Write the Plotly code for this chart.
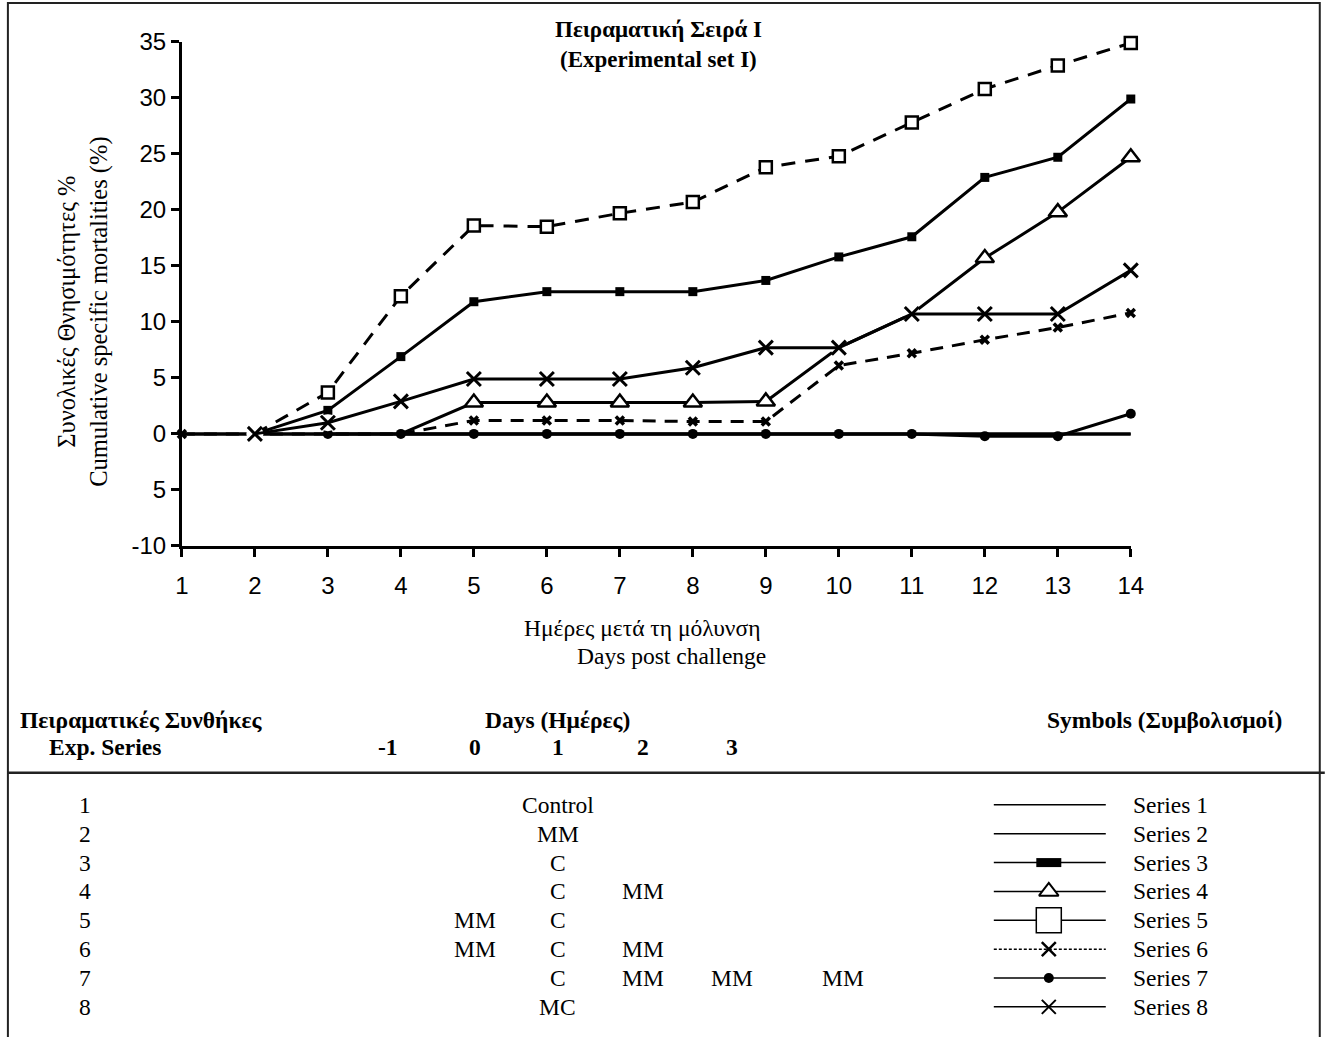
import plotly.graph_objects as go

W, H = 1325, 1037

# ---------------- data ----------------
days = [1, 2, 3, 4, 5, 6, 7, 8, 9, 10, 11, 12, 13, 14]
series1 = [0, 0, 0, 0, 0, 0, 0, 0, 0, 0, 0, 0, 0, 0]
series2 = [0, 0, 0, 0, 0, 0, 0, 0, 0, 0, 0, 0, 0, 0]
series3 = [None, 0, 2.1, 6.9, 11.8, 12.7, 12.7, 12.7, 13.7, 15.8, 17.6, 22.9, 24.7, 29.9]
series4 = [None, None, None, 0, 2.8, 2.8, 2.8, 2.8, 2.9, 7.7, 10.7, 15.7, 19.8, 24.7]
series5 = [None, 0, 3.7, 12.3, 18.6, 18.5, 19.7, 20.7, 23.8, 24.8, 27.8, 30.8, 32.9, 34.9]
series6 = [0, 0, 0, 0, 1.2, 1.2, 1.2, 1.1, 1.1, 6.1, 7.2, 8.4, 9.5, 10.8]
series7 = [None, None, 0, 0, 0, 0, 0, 0, 0, 0, 0, -0.2, -0.2, 1.8]
series8 = [None, 0, 1.0, 2.9, 4.9, 4.9, 4.9, 5.9, 7.7, 7.7, 10.7, 10.7, 10.7, 14.6]

y_tickvals = [-10, -5, 0, 5, 10, 15, 20, 25, 30, 35]
y_ticktext = ["-10", "5", "0", "5", "10", "15", "20", "25", "30", "35"]

series_names = ["Series 1", "Series 2", "Series 3", "Series 4",
                "Series 5", "Series 6", "Series 7", "Series 8"]
exp_series = ["1", "2", "3", "4", "5", "6", "7", "8"]
day_cols = ["-1", "0", "1", "2", "3"]
# treatments per experimental series: (column index, text)
treatments = [
    [(2, "Control")],
    [(2, "MM")],
    [(2, "C")],
    [(2, "C"), (3, "MM")],
    [(1, "MM"), (2, "C")],
    [(1, "MM"), (2, "C"), (3, "MM")],
    [(2, "C"), (3, "MM"), (4, "MM"), (5, "MM")],
    [(2, "MC")],
]

# ---------------- layout helpers ----------------
# positions are given in target-picture pixels and mapped to page coordinates
OX, SX, OY, SY = 7.1, 0.985, 14.1, 0.974

def pxu(x):
    return ((x - OX) / SX) / W

def pyu(y):
    return 1 - ((y - OY) / SY) / H

SERIF = "Liberation Serif"
SANS = "Liberation Sans"
TS = 23.5  # serif text size
HS = 23.5  # bold header size

plot_left, plot_right, plot_top, plot_bottom = 182, 1131, 42, 546

fig = go.Figure()

def hide_days(hidden):
    return [0 if d in hidden else 1 for d in days]

LW = 3
traces = [
    dict(y=series1, mode="lines", line=dict(width=LW, color="black")),
    dict(y=series2, mode="lines", line=dict(width=LW, color="black")),
    dict(y=series7, mode="lines+markers", line=dict(width=LW, color="black"),
         marker=dict(symbol="circle", size=10, color="black")),
    dict(y=series6, mode="lines+markers", line=dict(width=LW, color="black", dash="13px,9px"),
         marker=dict(symbol="x-thin-open", size=8, color="black",
                     line=dict(width=3.5, color="black"), opacity=hide_days([2, 3, 4]))),
    dict(y=series4, mode="lines+markers", line=dict(width=LW, color="black"),
         marker=dict(symbol="triangle-up", size=16, color="white",
                     line=dict(width=2.5, color="black"), opacity=hide_days([4, 10, 11]))),
    dict(y=series3, mode="lines+markers", line=dict(width=LW, color="black"),
         marker=dict(symbol="square", size=9, color="black", opacity=hide_days([2]))),
    dict(y=series5, mode="lines+markers", line=dict(width=LW, color="black", dash="14px,10px"),
         marker=dict(symbol="square", size=12, color="white",
                     line=dict(width=2.5, color="black"), opacity=hide_days([2]))),
    # white halo behind the X markers of series 8
    dict(y=series8, mode="markers",
         marker=dict(symbol="circle", size=17, color="white")),
    dict(y=series8, mode="lines+markers", line=dict(width=LW, color="black"),
         marker=dict(symbol="x-thin-open", size=14, color="black",
                     line=dict(width=3, color="black"))),
]
for t in traces:
    fig.add_trace(go.Scatter(x=days, showlegend=False, cliponaxis=False,
                             connectgaps=False, hoverinfo="skip", **t))

# ---------------- legend (symbols table) ----------------
row0, row_step = 805, (1007 - 805) / 7
leg_x0, leg_x1, leg_xm = 994, 1106, 1049
leg_styles = [
    dict(line=dict(width=1.5, color="black"), marker=None),
    dict(line=dict(width=1.5, color="black"), marker=None),
    dict(line=dict(width=1.5, color="black"), marker=None),
    dict(line=dict(width=1.5, color="black"),
         marker=dict(symbol="triangle-up", size=17, color="white",
                     line=dict(width=2, color="black"))),
    dict(line=dict(width=1.5, color="black"),
         marker=dict(symbol="square", size=25, color="white",
                     line=dict(width=1.5, color="black"))),
    dict(line=dict(width=1.5, color="black", dash="3px,2px"),
         marker=dict(symbol="x-thin-open", size=14, color="black",
                     line=dict(width=2.5, color="black"))),
    dict(line=dict(width=1.5, color="black"),
         marker=dict(symbol="circle", size=10, color="black")),
    dict(line=dict(width=1.5, color="black"),
         marker=dict(symbol="x-thin-open", size=14, color="black",
                     line=dict(width=2, color="black"))),
]
for i, st in enumerate(leg_styles):
    yy = row0 + i * row_step
    fig.add_trace(go.Scatter(x=[pxu(leg_x0), pxu(leg_x1)], y=[pyu(yy), pyu(yy)],
                             mode="lines", line=st["line"],
                             xaxis="x2", yaxis="y2", showlegend=False, hoverinfo="skip",
                             cliponaxis=False))
    if st["marker"] is not None:
        fig.add_trace(go.Scatter(x=[pxu(leg_xm)], y=[pyu(yy)], mode="markers",
                                 marker=st["marker"],
                                 xaxis="x2", yaxis="y2", showlegend=False, hoverinfo="skip",
                                 cliponaxis=False))

shapes = []
# series 3 legend: filled bar
yy3 = row0 + 2 * row_step
shapes.append(dict(type="rect", xref="paper", yref="paper",
                   x0=pxu(leg_xm - 12.5), x1=pxu(leg_xm + 12.5),
                   y0=pyu(yy3 - 4.5), y1=pyu(yy3 + 4.5),
                   fillcolor="black", line=dict(width=0)))
# outer frame
shapes.append(dict(type="rect", xref="paper", yref="paper",
                   x0=pxu(8), x1=pxu(1320), y0=pyu(1060), y1=pyu(3),
                   line=dict(color="#222", width=2)))
# separator rule
shapes.append(dict(type="line", xref="paper", yref="paper",
                   x0=pxu(8), x1=pxu(1325), y0=pyu(773), y1=pyu(773),
                   line=dict(color="#222", width=2.5)))

annotations = []

def ann(text, x, y, size, family=SERIF, xanchor="center", **kw):
    annotations.append(dict(text=text, x=pxu(x), y=pyu(y), xref="paper", yref="paper",
                            showarrow=False, xanchor=xanchor, yanchor="middle",
                            font=dict(family=family, size=size, color="black"), **kw))

# title
ann("<b>Πειραματική Σειρά I</b>", 659, 30, 23)
ann("<b>(Experimental set I)</b>", 659, 60, 23)
# y title
ann("Συνολικές Θνησιμότητες %<br>Cumulative specific mortalities (%)", 83, 312, 24.5,
    textangle=-90)
# x title
ann("Ημέρες μετά τη μόλυνση", 642, 628, TS)
ann("Days post challenge", 672, 656, TS)

# table headers
ann("<b>Πειραματικές Συνθήκες</b>", 18, 720, HS, xanchor="left")
ann("<b>Exp. Series</b>", 105, 747, HS)
ann("<b>Days (Ημέρες)</b>", 558, 720, HS)
ann("<b>Symbols (Συμβολισμοί)</b>", 1165, 720, HS)
col_x = [388, 475, 558, 643, 732, 843]
for c, lab in enumerate(day_cols):
    ann("<b>" + lab + "</b>", col_x[c], 747, HS)

for i, lab in enumerate(exp_series):
    yy = row0 + i * row_step
    ann(lab, 85, yy, TS)
    for c, txt in treatments[i]:
        ann(txt, col_x[c], yy, TS)
    ann(series_names[i], 1131, yy, TS, xanchor="left")

fig.update_layout(
    width=W, height=H,
    margin=dict(l=0, r=0, t=0, b=0),
    paper_bgcolor="white", plot_bgcolor="rgba(0,0,0,0)",
    showlegend=False,
    xaxis=dict(domain=[pxu(plot_left), pxu(plot_right)], range=[1, 14],
               tickvals=days, ticktext=[str(d) for d in days],
               showline=True, linewidth=3, linecolor="black",
               ticks="outside", ticklen=8, tickwidth=3, tickcolor="black",
               ticklabelstandoff=8,
               showgrid=False, zeroline=False,
               tickfont=dict(family=SANS, size=24, color="black"),
               anchor="y"),
    yaxis=dict(domain=[pyu(plot_bottom), pyu(plot_top)], range=[-10, 35],
               tickvals=y_tickvals, ticktext=y_ticktext,
               showline=True, linewidth=3, linecolor="black",
               ticks="outside", ticklen=8, tickwidth=3, tickcolor="black",
               showgrid=False, zeroline=False,
               tickfont=dict(family=SANS, size=24, color="black"),
               anchor="x"),
    xaxis2=dict(domain=[0, 1], range=[0, 1], visible=False, anchor="y2"),
    yaxis2=dict(domain=[0, 1], range=[0, 1], visible=False, anchor="x2"),
    shapes=shapes,
    annotations=annotations,
)

fig.write_html("out.html", config={"displayModeBar": False},
               post_script="document.body.style.margin='0';document.body.style.overflow='hidden';")
